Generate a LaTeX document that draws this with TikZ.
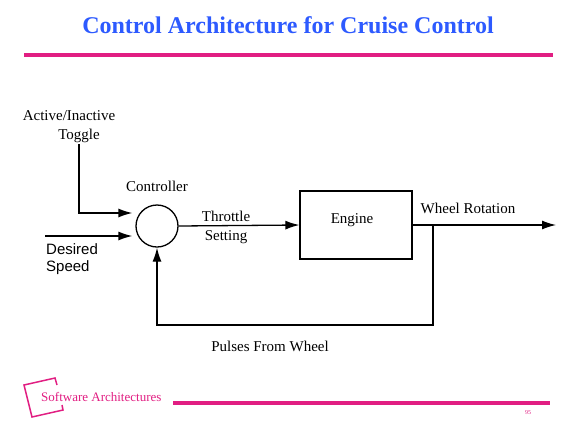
\documentclass[tikz,border=0pt]{standalone}
\usepackage{fontspec}
\setmainfont{Liberation Serif}
\setsansfont{Liberation Sans}
\usetikzlibrary{arrows.meta}
\definecolor{slideblue}{RGB}{45,90,255}
\definecolor{slidepink}{RGB}{225,30,130}
\begin{document}
\begin{tikzpicture}[x=1pt,y=-1pt,
		flow/.style={line width=1.3pt,-{Latex[length=14pt,width=9pt]}},
		lbl/.style={font=\fontsize{15}{17}\selectfont,inner sep=1pt}]
		\useasboundingbox (0,0) rectangle (577,437);
		% header
		\node[text=slideblue,font=\fontsize{24}{28}\bfseries] (title) at (288,25) {Control Architecture for Cruise Control};
		\draw[slidepink,line width=3.5pt] (24,55) -- (553,55);
		
		% blocks
		\node[draw,circle,line width=1.3pt,minimum size=42pt,inner sep=0pt] (ctrl) at (157,226) {};
		\node[draw,rectangle,line width=1.3pt,minimum width=112pt,minimum height=68pt] (engine) at (356,225) {};
		\node[lbl] (englbl) at (352,220) {Engine};
		\node[lbl] (ctrllbl) at (157,186) {Controller};
		
		% inputs
		\node[lbl] (act) at (69,116) {Active/Inactive};
		\node[lbl] (tog) at (79,136) {Toggle};
		\draw[flow] (tog.south) |- ([xshift=-3pt,yshift=13pt]ctrl.west);
		\coordinate (dsin) at (45,236);
		\draw[flow] (dsin) -- ([xshift=-3pt]ctrl.west |- dsin);
		\node[font=\sffamily\fontsize{15}{17}\selectfont,align=left,anchor=west,inner sep=0pt] (dspeed) at (46,259) {Desired\\Speed};
		
		% forward path
		\draw[flow] (ctrl.east) -- (engine.west);
		\node[lbl] (thr) at (226,216) {Throttle};
		\node[lbl] (set) at (226,237) {Setting};
		\coordinate (out) at (556,225);
		\coordinate (tap) at (433,225);
		\draw[flow] (engine.east) -- (out);
		\node[lbl] (wrot) at (468,208) {Wheel Rotation};
		
		% feedback
		\draw[flow] (tap) -- ++(0,100) -| (ctrl.south);
		\node[lbl] (pulses) at (270,346) {Pulses From Wheel};
		
		% footer
		\draw[slidepink,line width=1.5pt] (57,385) -- (55,378) -- (24,385) -- (32,417) -- (63,410) -- (62,405);
		\node[text=slidepink,font=\fontsize{13}{15}\selectfont,anchor=west,inner sep=0pt] (foot) at (41,397) {Software Architectures};
		\draw[slidepink,line width=3.5pt] (173,403) -- (550,403);
		\node[text=slidepink,font=\fontsize{6}{7}\selectfont,inner sep=0pt] (page) at (528,413) {95};
\end{tikzpicture}
\end{document}
